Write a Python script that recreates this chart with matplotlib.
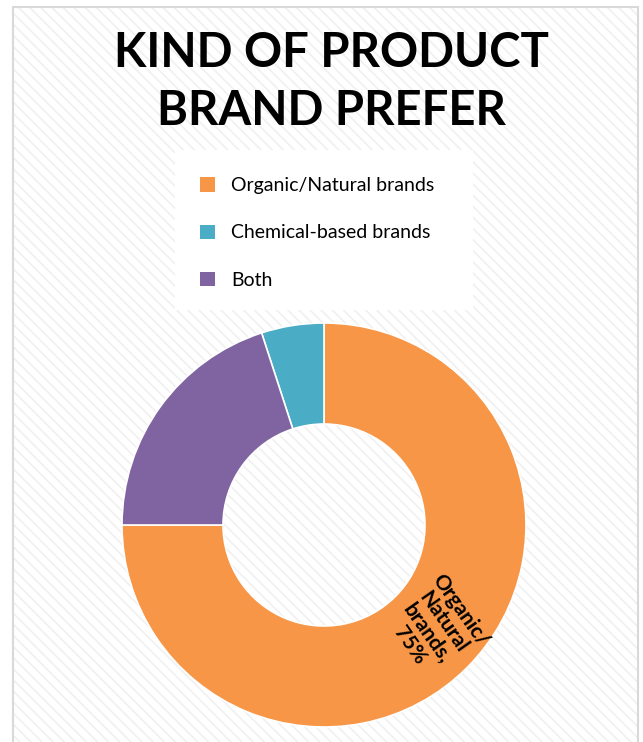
import matplotlib
matplotlib.use("Agg")
import matplotlib.pyplot as plt
from matplotlib.patches import Rectangle

# datos
labels = ["Organic/Natural brands", "Chemical-based brands", "Both"]
values = [75, 5, 20]
colors = ["#F79646", "#4BACC6", "#8064A2"]
title = "KIND OF PRODUCT\nBRAND PREFER"

W, H = 643, 742
plt.rcParams["font.family"] = ["Lato", "DejaVu Sans"]
plt.rcParams["hatch.linewidth"] = 1.2

fig = plt.figure(figsize=(W / 100, H / 100), dpi=100, facecolor="white")

# fondo rayado + borde
fig.patches.append(Rectangle((13 / W, 0), 625 / W, 735 / H, transform=fig.transFigure,
                             facecolor="white", edgecolor="#f0f0f0", hatch="\\\\\\", linewidth=0, zorder=-3))
fig.patches.append(Rectangle((13 / W, -0.01), 625 / W, 735 / H + 0.01, transform=fig.transFigure,
                             facecolor="none", edgecolor="#d9d9d9", linewidth=1.5, zorder=-2))
# caja de la leyenda
fig.patches.append(Rectangle((175 / W, 1 - 310 / H), 298 / W, 160 / H, transform=fig.transFigure,
                             facecolor="white", edgecolor="none", zorder=-1))

fig.text(331 / W, 1 - 82 / H, title, ha="center", va="center", fontsize=34,
         fontweight="bold", linespacing=1.38)

# donut
cx, cy, r = 324, 525, 202
ax = fig.add_axes([(cx - r) / W, 1 - (cy + r) / H, 2 * r / W, 2 * r / H])
wedges, _ = ax.pie(values, colors=colors, startangle=180, counterclock=True,
                   wedgeprops=dict(width=0.5, edgecolor="white", linewidth=1.2))
ax.set_xlim(-1, 1)
ax.set_ylim(-1, 1)
ax.set_aspect("equal")
ax.axis("off")

ax.text(0.55, -0.51, "Organic/\nNatural\nbrands,\n75%", rotation=-55, ha="center", va="center",
        rotation_mode="anchor", fontsize=15, fontweight="bold", linespacing=1.05)

leg = fig.legend(wedges, labels, loc="upper left", bbox_to_anchor=(175 / W, 1 - 152 / H),
                 frameon=False, fontsize=14, handlelength=0.75, handleheight=0.75,
                 labelspacing=1.55, borderpad=1.3, handletextpad=0.85, borderaxespad=0)
for h in leg.legend_handles:
    h.set_edgecolor("none")

fig.savefig("out.png", dpi=100, facecolor="white")
